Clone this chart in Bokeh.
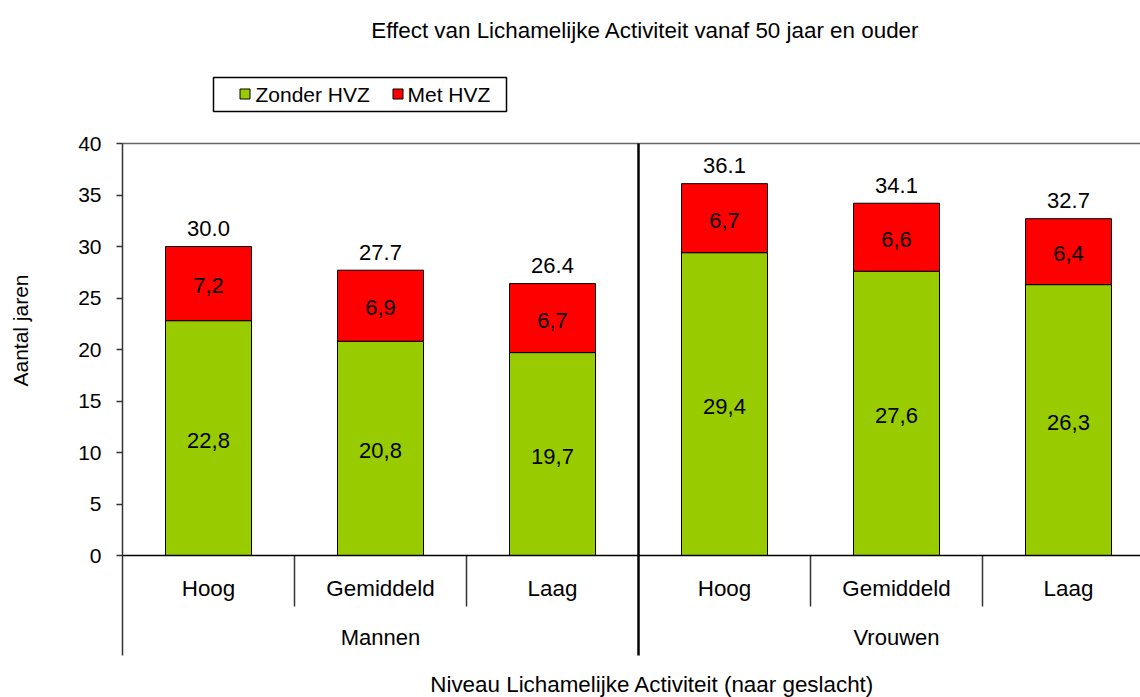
import math
from bokeh.plotting import figure
from bokeh.models import Range1d, FixedTicker
from bokeh.core.properties import value
from bokeh.embed import file_html
from bokeh.resources import INLINE

# ---------------- data ----------------
groups = ["Mannen", "Vrouwen"]
levels = ["Hoog", "Gemiddeld", "Laag"]
zonder_hvz = [22.8, 20.8, 19.7, 29.4, 27.6, 26.3]
met_hvz = [7.2, 6.9, 6.7, 6.7, 6.6, 6.4]
totaal = [30.0, 27.7, 26.4, 36.1, 34.1, 32.7]
series_names = ["Zonder HVZ", "Met HVZ"]
series_colors = ["#99CC00", "#FF0000"]
y_ticks = [0, 5, 10, 15, 20, 25, 30, 35, 40]
title_text = "Effect van Lichamelijke Activiteit vanaf 50 jaar en ouder"
x_title = "Niveau Lichamelijke Activiteit  (naar geslacht)"
y_title = "Aantal jaren"

# ---------------- layout helpers (canvas pixel -> data) ----------------
FONT = "Liberation Sans"
W, H = 1140, 697
ZERO_PX = 555.0
PX_PER_UNIT = 10.3
X0_PX = 122.0
PX_PER_CAT = 172.0


def vy(py):
    return (ZERO_PX - py) / PX_PER_UNIT


def vx(px):
    return (px - X0_PX) / PX_PER_CAT


n_cat = len(groups) * len(levels)
xs = [i + 0.5 for i in range(n_cat)]
cat_labels = [lv for g in groups for lv in levels]
tops = [a + b for a, b in zip(zonder_hvz, met_hvz)]

p = figure(width=W, height=H, output_backend="svg", toolbar_location=None,
           x_range=Range1d(vx(0), vx(W)), y_range=Range1d(vy(H), vy(0)),
           min_border=0, x_axis_location=None)
p.grid.visible = False
p.outline_line_color = None
p.background_fill_color = "white"
p.border_fill_color = "white"

# y axis, drawn at x = 0 of the data space
ax = p.yaxis[0]
ax.fixed_location = 0
ax.bounds = (vy(655), 40)
ax.ticker = FixedTicker(ticks=y_ticks)
ax.axis_line_color = "#333333"
ax.axis_line_width = 1.5
ax.major_tick_in = 0
ax.major_tick_out = 6
ax.major_tick_line_color = "#333333"
ax.major_tick_line_width = 1.5
ax.minor_tick_line_color = None
ax.major_label_standoff = 15
ax.major_label_text_font = FONT
ax.major_label_text_font_size = "21px"
ax.major_label_text_color = "black"

# frame lines
p.segment(x0=[0], y0=[40], x1=[n_cat], y1=[40], line_color="#666666", line_width=1.5)
inner = [i for i in range(1, n_cat) if i % len(levels) != 0]
p.segment(x0=inner, y0=[0] * len(inner), x1=inner, y1=[vy(606)] * len(inner),
          line_color="#333333", line_width=1.5)
gsep = [i for i in range(1, n_cat) if i % len(levels) == 0]
p.segment(x0=gsep, y0=[vy(655)] * len(gsep), x1=gsep, y1=[40] * len(gsep),
          line_color="black", line_width=2.5)

# bars
p.vbar(x=xs, width=0.5, bottom=0, top=zonder_hvz, fill_color=series_colors[0],
       line_color="black", line_width=1)
p.vbar(x=xs, width=0.5, bottom=zonder_hvz, top=tops, fill_color=series_colors[1],
       line_color="black", line_width=1)
p.segment(x0=[0], y0=[0], x1=[n_cat], y1=[0], line_color="black", line_width=1.5)


def lbl(v):
    return f"{v:.1f}".replace(".", ",")


txt = dict(text_font=value(FONT), text_color="black", text_align="center",
           text_baseline="middle")

# value labels
p.text(x=xs, y=[z / 2 for z in zonder_hvz], text=[lbl(v) for v in zonder_hvz],
       text_font_size="22px", y_offset=2, **txt)
p.text(x=xs, y=[z + m / 2 for z, m in zip(zonder_hvz, met_hvz)],
       text=[lbl(v) for v in met_hvz], text_font_size="22px", y_offset=2, **txt)
p.text(x=xs, y=tops, text=[f"{v:.1f}" for v in totaal], text_font_size="22px",
       y_offset=-18, **txt)

# category axis labels
p.text(x=xs, y=[vy(588)] * n_cat, text=cat_labels, text_font_size="22.4px", **txt)
p.text(x=[len(levels) * (g + 0.5) for g in range(len(groups))],
       y=[vy(637)] * len(groups), text=groups, text_font_size="22px", **txt)

# titles
p.text(x=[vx(645)], y=[vy(30)], text=[title_text], text_font_size="22.4px", **txt)
p.text(x=[vx(655)], y=[vy(684)], text=[x_title], text_font_size="22.4px", **txt)
p.text(x=[vx(20)], y=[vy(330)], text=[y_title], text_font_size="21px",
       angle=math.pi / 2, **txt)

# legend (box, swatches, labels)
p.quad(left=[vx(213)], right=[vx(506)], top=[vy(77)], bottom=[vy(111)],
       fill_color="white", line_color="black", line_width=1.5)
p.scatter(x=[vx(244.5), vx(397.5)], y=[vy(93.5)] * 2, marker="square", size=10,
          fill_color=series_colors, line_color="black", line_width=1)
p.text(x=[vx(255), vx(407)], y=[vy(94)] * 2, text=series_names,
       text_font=value(FONT), text_font_size="21px", text_color="black",
       text_align="left", text_baseline="middle")

open("out.html", "w").write(file_html(p, INLINE))
